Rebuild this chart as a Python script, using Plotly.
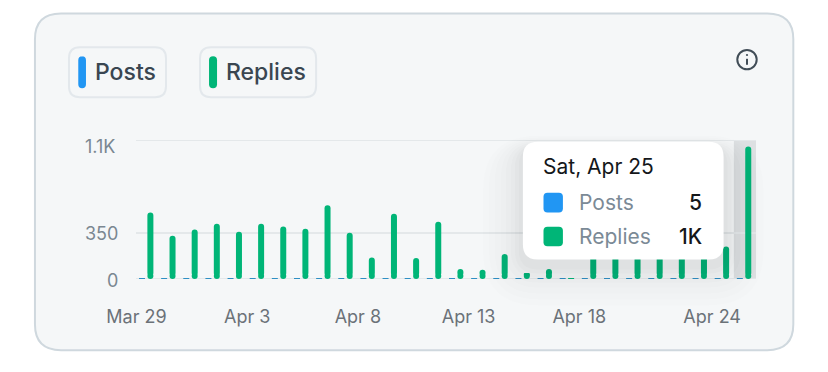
import plotly.graph_objects as go

W, H = 828, 372
L, R, T, B = 136.0, 755.7, 140.0, 279.5

days = ["Mar 29", "Mar 30", "Mar 31", "Apr 1", "Apr 2", "Apr 3", "Apr 4", "Apr 5", "Apr 6", "Apr 7",
        "Apr 8", "Apr 9", "Apr 10", "Apr 11", "Apr 12", "Apr 13", "Apr 14", "Apr 15", "Apr 16", "Apr 17",
        "Apr 18", "Apr 19", "Apr 20", "Apr 21", "Apr 22", "Apr 23", "Apr 24", "Apr 25"]
replies = [502, 327, 374, 417, 357, 417, 397, 379, 558, 349, 163, 492, 158, 432,
           75, 70, 188, 45, 75, 6, 190, 210, 200, 195, 205, 190, 246, 1000]
posts = [4, 5, 4, 6, 4, 4, 6, 7, 5, 4, 3, 6, 3, 5,
         4, 4, 4, 3, 4, 3, 4, 4, 4, 4, 4, 4, 4, 5]
tick_days = ["Mar 29", "Apr 3", "Apr 8", "Apr 13", "Apr 18", "Apr 24"]
y_ticks = [0, 350, 1050]

BLUE, GREEN = "#2196F3", "#00B577"
GRID = "#E4E8EA"
FONT = "Inter"
BAR_PX = 6.0
band = (R - L) / len(days)
unit = band
px_per_val = (B - T) / y_ticks[-1]
foot = 3.0 / px_per_val
idx = list(range(len(days)))


def fx(x):
    return (x - L) / (R - L)


def fy(y):
    return (B - y) / (B - T)


def rrect(x0, y0, x1, y1, r, fill, line=None, lw=0):
    a, b, c, d = fx(x0), fy(y0), fx(x1), fy(y1)
    rx, ry = r / (R - L), r / (B - T)
    path = (f"M{a+rx},{b} L{c-rx},{b} Q{c},{b} {c},{b-ry} L{c},{d+ry} Q{c},{d} {c-rx},{d} "
            f"L{a+rx},{d} Q{a},{d} {a},{d+ry} L{a},{b-ry} Q{a},{b} {a+rx},{b} Z")
    return dict(type="path", xref="paper", yref="paper", path=path, fillcolor=fill,
                line=dict(color=line or fill, width=lw), layer="below")


def text(x, y, s, size, color, anchor="left", weight=400):
    return dict(xref="paper", yref="paper", x=fx(x), y=fy(y), text=s, showarrow=False,
                xanchor=anchor, yanchor="middle", borderpad=0,
                font=dict(family=FONT, size=size, color=color, weight=weight))


shapes = [
    rrect(35, 13, 793, 351, 26, "#F5F7F8", "#CFD8DE", 2),
    rrect(69, 47, 166, 97, 11, "#F5F7F8", "#E3E8EC", 2),
    rrect(200, 47, 316, 97, 11, "#F5F7F8", "#E3E8EC", 2),
    rrect(78.3, 56, 86, 88, 4, BLUE),
    rrect(209, 56, 217, 88, 4, GREEN),
    dict(type="rect", xref="x", yref="paper", x0=26.5, x1=27.5, y0=0, y1=1,
         fillcolor="#DDE0E2", line_width=0, layer="below"),
    # axis-end gridlines, which plotly drops at the range limits
    dict(type="line", xref="paper", yref="y", x0=0, x1=1, y0=y_ticks[0], y1=y_ticks[0],
         line=dict(color=GRID, width=2), layer="below"),
    dict(type="line", xref="paper", yref="y", x0=0, x1=1, y0=y_ticks[-1], y1=y_ticks[-1],
         line=dict(color=GRID, width=2), layer="below"),
]
# soft tooltip shadow
for grow, alpha in [(40, .006), (34, .008), (28, .010), (22, .012), (17, .014), (12, .016), (8, .018), (4, .02)]:
    s = rrect(522.7 - grow, 141.7 - grow * .3 + 6, 723.3 + grow, 260 + grow + 6, 15 + grow,
              f"rgba(50,55,60,{alpha})")
    s["layer"] = "above"
    shapes.append(s)
for s in [rrect(522.7, 141.7, 723.3, 260, 15, "#FFFFFF"),
          rrect(543.3, 193, 562.7, 212.7, 4, BLUE),
          rrect(543.3, 227, 562.7, 246.7, 4, GREEN)]:
    s["layer"] = "above"
    shapes.append(s)
# info icon
shapes += [
    dict(type="circle", xref="paper", yref="paper", x0=fx(737), x1=fx(756.4), y0=fy(49.6), y1=fy(69),
         line=dict(color="#414D57", width=2), fillcolor="rgba(0,0,0,0)"),
    dict(type="line", xref="paper", yref="paper", x0=fx(746.7), x1=fx(746.7), y0=fy(58.5), y1=fy(64.5),
         line=dict(color="#414D57", width=2)),
    dict(type="circle", xref="paper", yref="paper", x0=fx(745.6), x1=fx(747.8), y0=fy(53.6), y1=fy(55.8),
         fillcolor="#414D57", line_width=0),
]

annotations = [
    text(94, 72, "Posts", 23, "#3A4651", weight=500),
    text(225, 72, "Replies", 23, "#3A4651", weight=500),
    text(84.5, 147, "1.1K", 18, "#7B8791"),
    text(119.5, 234, "350", 18, "#7B8791", "right"),
    text(119.5, 281.5, "0", 18, "#7B8791", "right"),
    text(541.5, 166.5, "Sat, Apr 25", 21, "#14171A"),
    text(578, 202.7, "Posts", 21, "#7B8A96"),
    text(578, 236.8, "Replies", 21, "#7B8A96"),
    text(703, 202.7, "5", 21, "#14171A", "right", 500),
    text(703, 236.8, "1K", 21, "#14171A", "right", 500),
]

fig = go.Figure()
fig.add_bar(name="Posts", x=idx, y=posts, width=BAR_PX / unit, offset=-0.23 - BAR_PX / unit / 2,
            marker=dict(color="#2E8FC4", line_width=0), hoverinfo="skip")
fig.add_bar(name="Replies", x=idx,
            y=[v - foot if v > foot else v for v in replies],
            base=[foot if v > foot else 0 for v in replies],
            width=BAR_PX / unit, offset=0.15 - BAR_PX / unit / 2,
            marker=dict(color=GREEN, line_width=0), hoverinfo="skip")
fig.add_scatter(name="Replies foot", x=[i + 0.15 for i, v in zip(idx, replies) if v > foot],
                y=[foot for v in replies if v > foot], mode="markers",
                marker=dict(color=GREEN, size=BAR_PX, line_width=0), hoverinfo="skip", cliponaxis=False)

fig.update_layout(
    width=W, height=H, autosize=False, showlegend=False,
    margin=dict(l=L, r=W - R, t=T, b=H - B, pad=0),
    paper_bgcolor="#FFFFFF", plot_bgcolor="rgba(0,0,0,0)",
    barmode="overlay", barcornerradius=3,
    shapes=shapes, annotations=annotations,
    font=dict(family=FONT),
    xaxis=dict(range=[-0.5, 27.5], showgrid=False, zeroline=False, showline=False, ticks="",
               tickmode="array", tickvals=[days.index(d) - 0.48 for d in tick_days], ticktext=tick_days,
               tickfont=dict(family=FONT, size=18, color="#6B7278"), tickangle=0, ticklabelstandoff=25),
    yaxis=dict(range=[0, 1050], tickmode="array", tickvals=y_ticks, showticklabels=False, ticks="",
               showgrid=True, gridcolor=GRID, gridwidth=2, zeroline=False, showline=False),
)
fig.write_html("out.html", config=dict(displayModeBar=False),
               post_script="document.body.style.margin='0';document.body.style.overflow='hidden';")
